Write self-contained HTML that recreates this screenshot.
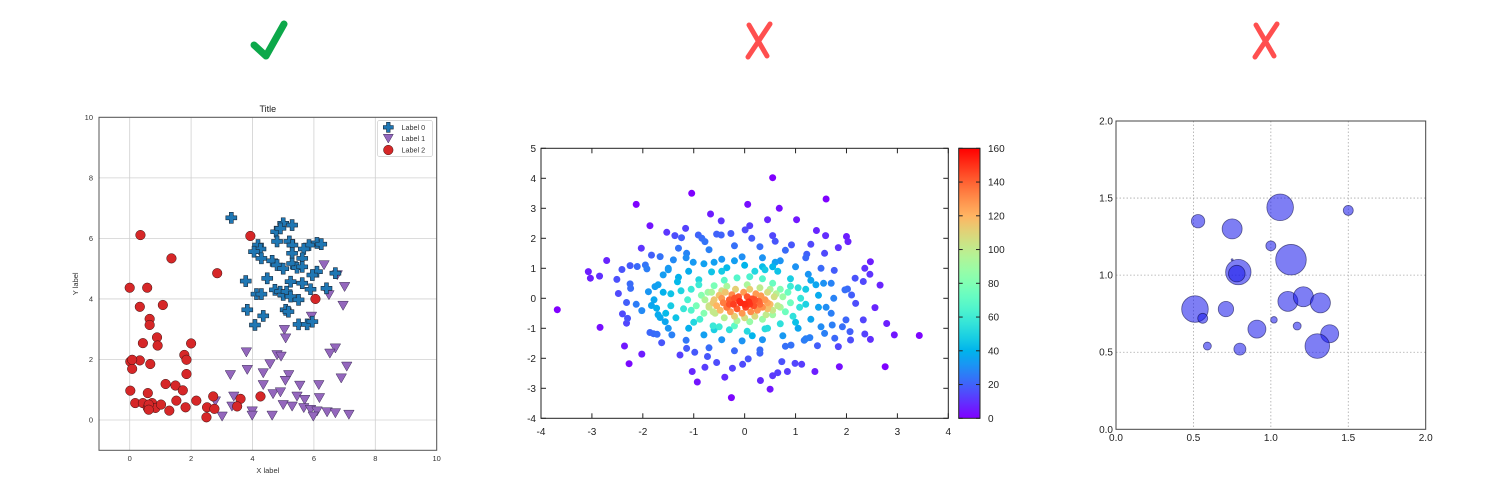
<!DOCTYPE html>
<html><head><meta charset="utf-8"><style>
html,body{margin:0;padding:0;background:#fff;}
svg{display:block;font-family:"Liberation Sans","DejaVu Sans",sans-serif;}
</style></head><body>
<svg id="root" width="1487" height="485" viewBox="0 0 1487 485" xmlns="http://www.w3.org/2000/svg">
<rect width="1487" height="485" fill="#fff"/>
<path d="M254,45 L266,56 L284,24" fill="none" stroke="#0ca84a" stroke-width="7" stroke-linecap="round" stroke-linejoin="round"/>
<g stroke="#ff4f4f" stroke-width="5" stroke-linecap="round"><line x1="749" y1="25" x2="767" y2="56"/><line x1="770" y1="24" x2="748" y2="57"/></g>
<g stroke="#ff4f4f" stroke-width="5" stroke-linecap="round"><line x1="1256" y1="25" x2="1274" y2="56"/><line x1="1277" y1="24" x2="1255" y2="57"/></g>
<g id="c1"></g>
<g id="c2"></g>
<g id="c3"></g>
</svg>
<script>
// ---------- Chart 1 data ----------
const l0x=[3.31,5.0,5.29,4.77,4.91,4.18,4.26,4.05,4.29,4.8,5.2,5.3,6.1,6.24,5.84,5.67,5.29,5.62,4.64,4.8,5.0,5.29,5.45,5.62,6.1,5.95,6.7,3.78,4.48,5.24,5.62,6.41,5.89,4.73,4.9,5.0,5.11,5.24,5.5,4.13,4.29,3.83,4.35,4.08,5.08,5.17,5.5,5.78,5.95];
const l0y=[6.68,6.5,6.44,6.22,6.33,5.78,5.65,5.56,5.34,5.9,5.9,5.78,5.85,5.81,5.78,5.65,5.51,5.34,5.26,5.12,5.0,5.17,5.03,5.06,4.9,4.79,4.85,4.59,4.68,4.57,4.52,4.35,4.32,4.3,4.24,4.13,4.24,4.08,3.97,4.16,4.16,3.64,3.44,3.14,3.64,3.58,3.16,3.16,3.25];
const l1x=[6.33,6.76,7.0,6.49,6.95,5.92,5.04,5.08,3.8,4.8,4.93,6.7,6.52,3.28,3.83,4.35,4.57,5.18,5.07,4.35,5.54,6.16,6.89,7.07,4.67,4.91,5.45,5.7,6.18,3.39,5.0,5.29,5.67,5.89,6.1,6.43,6.7,7.14,3.99,3.99,4.64,3.01,5.98,2.79,3.33];
const l1y=[5.12,4.79,4.4,4.13,3.78,3.42,2.98,2.7,2.24,2.15,2.1,2.37,2.2,1.49,1.66,1.55,1.85,1.49,1.3,1.16,1.14,1.16,1.38,1.77,0.86,0.92,0.78,0.67,0.73,0.78,0.5,0.45,0.4,0.34,0.29,0.26,0.23,0.18,0.29,0.15,0.15,0.12,0.12,0.62,0.45];
const l2x=[0.35,3.93,1.36,2.85,6.05,0,0.57,0.33,1.08,0.65,0.65,0.43,0.89,0.91,2.0,1.78,1.85,1.85,0.67,0.02,0.08,0.33,0.08,0.02,0.59,1.17,1.49,1.73,0.18,0.43,0.73,0.59,0.84,1.02,1.29,1.52,1.82,2.17,0.62,0.62,2.72,2.52,2.76,2.5,3.61,3.5,4.26];
const l2y=[6.11,6.08,5.34,4.85,4.0,4.37,4.37,3.74,3.8,3.34,3.14,2.54,2.73,2.46,2.53,2.15,1.99,1.52,1.85,1.93,1.69,1.97,1.99,0.97,0.89,1.19,1.14,0.98,0.56,0.56,0.56,0.4,0.4,0.51,0.31,0.64,0.42,0.64,0.51,0.34,0.78,0.42,0.37,0.09,0.7,0.45,0.78];
const c1Ticks=[0,2,4,6,8,10];
const legendLabels=["Label 0","Label 1","Label 2"];

// ---------- Chart 2 data (x,y pairs) ----------
const outerPts=[[-3.68,-0.38],[-3.07,0.89],[-3.03,0.67],[-2.85,0.74],[-2.71,1.26],[-2.84,-0.97],[-2.13,3.13],[-1.86,2.42],[-1.04,3.5],[-0.67,2.81],[-0.46,2.58],[0.06,3.13],[0.55,4.02],[0.68,3.0],[0.45,2.62],[1.02,2.62],[1.6,3.31],[1.41,2.26],[1.59,2.09],[2.0,2.06],[2.03,1.89],[1.84,1.69],[2.47,1.22],[2.36,1.0],[2.66,0.44],[2.46,0.8],[2.33,0.56],[2.17,0.67],[1.97,0.28],[2.1,0.11],[2.18,-0.17],[2.56,-0.31],[2.79,-0.84],[2.94,-1.22],[3.43,-1.24],[2.76,-2.28],[2.47,-1.37],[2.36,-1.19],[2.33,-0.72],[1.86,-2.28],[1.84,-1.61],[1.77,-1.33],[1.38,-2.44],[1.12,-2.2],[0.99,-2.17],[0.84,-2.44],[0.65,-2.48],[0.55,-2.58],[0.5,-3.03],[0.31,-2.74],[-0.26,-3.31],[-0.39,-2.63],[-0.24,-2.33],[-0.78,-2.3],[-1.03,-2.44],[-0.93,-2.79],[-1.27,-1.89],[-2.02,-1.86],[-2.27,-2.18],[-2.36,-1.59],[-2.32,-0.83],[-2.3,-0.67],[-2.4,-0.52],[-2.32,-0.14],[-2.48,0.16],[-2.51,0.63],[-2.41,0.96],[-2.25,1.09],[-2.24,0.33],[-2.25,0.48],[-2.11,1.06],[-1.95,1.11],[-1.92,0.98],[-2.03,1.67],[-1.83,1.44],[-2.13,-0.2],[-2.02,-0.41],[-1.89,0.22],[-1.86,-1.14],[-1.79,-1.18],[-1.72,-1.2],[-1.63,-1.48],[-1.53,2.2],[-1.37,2.09],[-1.16,2.33],[-1.24,2.02],[-0.91,2.11],[-0.84,2.0],[-0.78,1.89],[-0.55,2.14],[-0.46,2.11],[-0.27,2.16],[0.01,2.28],[0.1,2.42],[0.14,2.0],[0.55,2.09],[0.6,1.9],[0.92,1.78],[1.3,1.8],[1.22,1.47],[1.57,1.5],[1.76,0.93],[2.02,0.31],[1.99,-0.72],[2.07,-1.11],[2.08,-1.39],[1.92,-0.95],[1.72,-0.89],[1.57,-1.17],[1.43,-1.58],[1.28,-1.31],[1.17,-1.4],[0.91,-1.56],[0.73,-2.11],[0.3,-1.83],[0.07,-2.02],[-0.04,-2.2],[-0.55,-2.14],[-0.73,-1.94],[-0.98,-1.8],[-1.14,-1.67],[-1.43,-1.22],[-1.66,-0.64],[-1.56,-0.78],[-1.73,-0.33],[-1.83,-0.24],[-1.76,0.39],[-1.6,0.78],[-1.5,1.0],[-1.4,1.28],[-1.3,1.67],[-1.14,1.5],[-1.01,1.2],[-1.66,1.39]];
const ringPts=[[0.75,0.05],[0.7,0.3],[0.55,0.5],[0.35,0.65],[0.1,0.72],[-0.15,0.68],[-0.4,0.6],[-0.6,0.42],[-0.72,0.2],[-0.78,-0.05],[-0.7,-0.3],[-0.58,-0.5],[-0.4,-0.65],[-0.15,-0.75],[0.1,-0.78],[0.35,-0.7],[0.55,-0.55],[0.7,-0.3],[0.62,0.15],[-0.62,-0.15],[0.45,-0.15],[-0.45,0.25],[0.5,0.3],[-0.35,-0.3],
[1.1,0],[1.05,0.35],[0.9,0.65],[0.65,0.9],[0.35,1.05],[0,1.1],[-0.35,1.02],[-0.65,0.88],[-0.9,0.62],[-1.05,0.3],[-1.12,-0.05],[-1.05,-0.4],[-0.88,-0.7],[-0.62,-0.92],[-0.3,-1.05],[0.05,-1.1],[0.4,-1.02],[0.7,-0.85],[0.95,-0.6],[1.08,-0.3],[0.85,0.2],[-0.85,0.1],[0.2,0.9],[-0.2,-0.92],[0.9,-0.15],[-0.95,-0.25],
[1.45,0.1],[1.4,0.45],[1.25,0.8],[1.0,1.05],[0.7,1.25],[0.35,1.35],[-0.05,1.38],[-0.45,1.3],[-0.8,1.15],[-1.1,0.9],[-1.32,0.55],[-1.45,0.15],[-1.45,-0.25],[-1.35,-0.65],[-1.1,-1.0],[-0.8,-1.22],[-0.45,-1.38],[-0.05,-1.42],[0.35,-1.38],[0.75,-1.25],[1.05,-1.0],[1.3,-0.7],[1.45,-0.3],[1.2,0.3],[-1.25,0.25],[0.55,1.05],[-0.6,-1.05],
[1.75,0],[1.7,0.5],[1.5,1.0],[1.2,1.35],[0.8,1.6],[0.3,1.72],[-0.2,1.75],[-0.7,1.62],[-1.15,1.35],[-1.5,0.95],[-1.7,0.45],[-1.78,-0.05],[-1.7,-0.55],[-1.5,-1.0],[-1.15,-1.4],[-0.7,-1.65],[-0.2,-1.75],[0.3,-1.72],[0.8,-1.6],[1.2,-1.35],[1.5,-0.95],[1.7,-0.5],
[0.9,0.4],[-0.9,0.45],[0.8,-0.45],[-0.8,-0.5],[1.2,-0.2],[-1.2,-0.35],[0.4,0.95],[-0.45,0.9],[0.45,-1.0],[-0.5,-0.95],[1.3,0.6],[-1.3,0.7],[1.0,-0.8],[-1.0,-0.8],[0.6,1.2],[-0.6,1.2],[0.15,-1.25],[-0.2,1.25],[1.6,-0.3],[-1.6,0.2],[1.55,0.5],[-1.55,-0.5]];
const corePts=[[-0.6,-0.05],[-0.55,-0.25],[-0.5,0.1],[-0.48,-0.4],[-0.42,-0.15],[-0.38,0.2],[-0.35,-0.3],[-0.3,-0.05],[-0.28,-0.45],[-0.25,0.12],[-0.22,-0.2],[-0.18,0.3],[-0.15,-0.35],[-0.12,0.05],[-0.08,-0.15],[-0.05,-0.5],[-0.02,0.2],[0.02,-0.3],[0.05,0.05],[0.08,-0.12],[0.1,0.3],[0.12,-0.45],[0.15,-0.02],[0.18,-0.25],[0.22,0.15],[0.25,-0.4],[0.28,-0.1],[0.32,0.08],[0.35,-0.3],[0.4,-0.05],[0.42,-0.55],[0.45,0.2],[0.5,-0.2],[0.55,-0.4],[0.58,0.05],[-0.65,0.2],[-0.62,-0.45],[0,-0.65],[0.2,-0.6],[-0.2,-0.6],[0.65,-0.25],[-0.7,-0.25],[0.3,0.35],[-0.35,0.4],[0.05,0.45],[-0.1,-0.1],[0.1,-0.2],[-0.2,0],[0.2,-0.05],[0,-0.2],[-0.3,-0.2],[0.3,-0.2],[-0.45,0],[0.45,-0.35]];
const c2XTicks=[-4,-3,-2,-1,0,1,2,3,4];
const c2YTicks=[-4,-3,-2,-1,0,1,2,3,4,5];
const cbTicks=[0,20,40,60,80,100,120,140,160];

// ---------- Chart 3 data ----------
const bx=[1.06,0.53,0.75,1.50,1.0,1.13,0.79,0.78,0.75,0.51,0.56,0.71,0.59,0.80,0.91,1.02,1.11,1.21,1.32,1.17,1.38,1.30];
const by=[1.44,1.35,1.30,1.42,1.19,1.10,1.02,1.01,1.10,0.78,0.72,0.78,0.54,0.52,0.65,0.71,0.83,0.86,0.82,0.67,0.62,0.54];
const bs=[13.3,6.7,10,5,5,15.3,12.7,8.3,1,13.3,5,7.7,4,6,9,3.3,10,10,10,4,9,12.3];
const c3Ticks=[0.0,0.5,1.0,1.5,2.0];

const NS="http://www.w3.org/2000/svg";
function mk(parent,tag,attrs,text){const e=document.createElementNS(NS,tag);for(const k in attrs)e.setAttribute(k,attrs[k]);if(text!==undefined)e.textContent=text;parent.appendChild(e);return e;}

// ===== Chart 1 =====
(function(){
const g=document.getElementById('c1');
const L=99,R=436.7,T=117.3,B=450.3;
const X=v=>L+(v+1)*(R-L)/11, Y=v=>B-(v+1)*(B-T)/11;
for(const t of c1Ticks){
 let gl=mk(g,'line',{x1:X(t),x2:X(t),y1:T,y2:B,stroke:'#d0d0d0','stroke-width':0.8});
 
 
 gl=mk(g,'line',{x1:L,x2:R,y1:Y(t),y2:Y(t),stroke:'#d0d0d0','stroke-width':0.8});
 
 
 let tx=mk(g,'text',{x:X(t),y:461,'font-size':7.5,'text-anchor':'middle',fill:'#333'},String(t));
 
 
 let ty=mk(g,'text',{x:L-6,y:Y(t)+2.5,'font-size':7.5,'text-anchor':'end',fill:'#333'},String(t));
 
 
}
const fr=mk(g,'rect',{x:L,y:T,width:R-L,height:B-T,fill:'none',stroke:'#555','stroke-width':1});


const ti=mk(g,'text',{x:(L+R)/2,y:112,'font-size':9,'text-anchor':'middle',fill:'#222'},'Title');


const xl=mk(g,'text',{x:(L+R)/2,y:473,'font-size':7.5,'text-anchor':'middle',fill:'#333'},'X label');


const yl=mk(g,'text',{x:78,y:(T+B)/2,'font-size':7.5,'text-anchor':'middle',fill:'#333',transform:`rotate(-90 78 ${(T+B)/2})`},'Y label');


function plus(cx,cy,s){const a=s*0.5,w=s*0.18;return `M${cx-w},${cy-a}H${cx+w}V${cy-w}H${cx+a}V${cy+w}H${cx+w}V${cy+a}H${cx-w}V${cy+w}H${cx-a}V${cy-w}H${cx-w}Z`;}
function tri(cx,cy,s){return `M${cx-s*0.5},${cy-s*0.42}L${cx+s*0.5},${cy-s*0.42}L${cx},${cy+s*0.45}Z`;}
for(let i=0;i<l1x.length;i++){const p=mk(g,'path',{d:tri(X(l1x[i]),Y(l1y[i]),10.5),fill:'#9467bd',stroke:'#3a2a55','stroke-width':0.5});
 
 }
for(let i=0;i<l0x.length;i++){const p=mk(g,'path',{d:plus(X(l0x[i]),Y(l0y[i]),11),fill:'#1f77b4',stroke:'#1a2a3a','stroke-width':0.6});
 
 }
for(let i=0;i<l2x.length;i++){const p=mk(g,'circle',{cx:X(l2x[i]),cy:Y(l2y[i]),r:4.8,fill:'#d62728',stroke:'#3a1010','stroke-width':0.5});
 
 }
const lg=mk(g,'g',{});


mk(lg,'rect',{x:377.5,y:120.5,width:55,height:36,rx:2,fill:'#fff','fill-opacity':0.85,stroke:'#ccc','stroke-width':0.7});
const ly=[127.3,138.5,150];
mk(lg,'path',{d:plus(388.3,ly[0],10),fill:'#1f77b4',stroke:'#1a2a3a','stroke-width':0.6});
mk(lg,'path',{d:tri(388.3,ly[1],10),fill:'#9467bd',stroke:'#3a2a55','stroke-width':0.5});
mk(lg,'circle',{cx:388.3,cy:ly[2],r:4.8,fill:'#d62728',stroke:'#3a1010','stroke-width':0.5});
for(let i=0;i<3;i++){const t=mk(lg,'text',{x:401.5,y:ly[i]+2.6,'font-size':7.2,fill:'#333'},legendLabels[i]);
 
 }
})();

// ===== Chart 2 =====
(function(){
const g=document.getElementById('c2');
const L=541,R=948.3,T=148.3,B=418.3;
const X=v=>L+(v+4)*(R-L)/8, Y=v=>B-(v+4)*(B-T)/9;
function rainbow(t){t=Math.max(0,Math.min(1,t));const r=Math.min(1,Math.abs(2*t-0.5)),gg=Math.sin(Math.PI*t),b=Math.cos(Math.PI*t/2);return `rgb(${Math.round(r*255)},${Math.round(gg*255)},${Math.round(b*255)})`;}
const pts=outerPts.concat(ringPts,corePts);
const n=pts.length,dens=[];
for(let i=0;i<n;i++){let c=0;for(let j=0;j<n;j++){const dx=pts[i][0]-pts[j][0],dy=pts[i][1]-pts[j][1];c+=Math.exp(-(dx*dx+dy*dy)/(2*0.45*0.45));}dens.push(c);}
const dmin=Math.min(...dens),dmax=Math.max(...dens);
const order=[...Array(n).keys()].sort((a,b)=>dens[a]-dens[b]);
for(const i of order){const v=(dens[i]-dmin)/(dmax-dmin);const t=Math.pow(v,1.3)*0.95;
 const p=mk(g,'circle',{cx:X(pts[i][0]),cy:Y(pts[i][1]),r:3.5,fill:rainbow(t)});
 
 }
const fr=mk(g,'rect',{x:L,y:T,width:R-L,height:B-T,fill:'none',stroke:'#222','stroke-width':1});


for(const t of c2XTicks){
 mk(g,'line',{x1:X(t),x2:X(t),y1:B,y2:B-5,stroke:'#222'});mk(g,'line',{x1:X(t),x2:X(t),y1:T,y2:T+5,stroke:'#222'});
 const tx=mk(g,'text',{x:X(t),y:435,'font-size':10,'text-anchor':'middle',fill:'#222'},String(t));
 
 }
for(const t of c2YTicks){
 mk(g,'line',{x1:L,x2:L+5,y1:Y(t),y2:Y(t),stroke:'#222'});mk(g,'line',{x1:R,x2:R-5,y1:Y(t),y2:Y(t),stroke:'#222'});
 const ty=mk(g,'text',{x:536,y:Y(t)+3.5,'font-size':10,'text-anchor':'end',fill:'#222'},String(t));
 
 }
const defs=mk(g,'defs',{});const lgd=mk(defs,'linearGradient',{id:'cbg',x1:0,y1:1,x2:0,y2:0});
for(let k=0;k<=20;k++)mk(lgd,'stop',{offset:k/20,'stop-color':rainbow(k/20)});
const CL=958.7,CR=980,CT=148.3,CB=418.3;
const cb=mk(g,'rect',{x:CL,y:CT,width:CR-CL,height:CB-CT,fill:'url(#cbg)',stroke:'#222','stroke-width':1});


const CY=v=>CB-v/160*(CB-CT);
for(const t of cbTicks){mk(g,'line',{x1:CL,x2:CL+4,y1:CY(t),y2:CY(t),stroke:'#222'});mk(g,'line',{x1:CR,x2:CR-4,y1:CY(t),y2:CY(t),stroke:'#222'});
 const tx=mk(g,'text',{x:988,y:CY(t)+3.5,'font-size':10,fill:'#222'},String(t));
 
 }
})();

// ===== Chart 3 =====
(function(){
const g=document.getElementById('c3');
const L=1116,R=1425.7,T=121,B=429.3;
const X=v=>L+v/2*(R-L), Y=v=>B-v/2*(B-T);
for(const t of c3Ticks){
 if(t>0&&t<2){let gl=mk(g,'line',{x1:X(t),x2:X(t),y1:T,y2:B,stroke:'#aaa','stroke-width':0.8,'stroke-dasharray':'1.5,2'});
 
 
 gl=mk(g,'line',{x1:L,x2:R,y1:Y(t),y2:Y(t),stroke:'#aaa','stroke-width':0.8,'stroke-dasharray':'1.5,2'});
 
 }
 const tx=mk(g,'text',{x:X(t),y:441,'font-size':10,'text-anchor':'middle',fill:'#222'},t.toFixed(1));
 
 
 const ty=mk(g,'text',{x:1113,y:Y(t)+3.5,'font-size':10,'text-anchor':'end',fill:'#222'},t.toFixed(1));
 
 
}
for(let i=0;i<bx.length;i++){const c=mk(g,'circle',{cx:X(bx[i]),cy:Y(by[i]),r:bs[i],fill:'rgba(20,20,235,0.55)',stroke:'rgba(0,0,60,0.55)','stroke-width':0.8});
 
 }
const fr=mk(g,'rect',{x:L,y:T,width:R-L,height:B-T,fill:'none',stroke:'#444','stroke-width':1});


})();
</script>
</body></html>
